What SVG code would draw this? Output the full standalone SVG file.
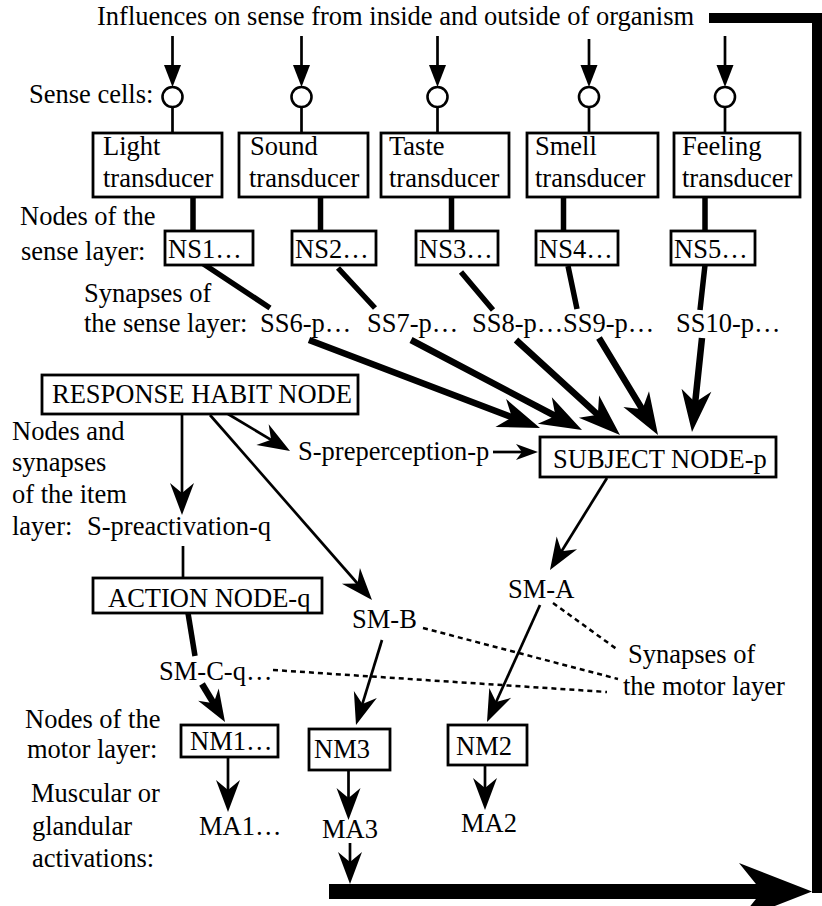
<svg xmlns="http://www.w3.org/2000/svg" xmlns:xlink="http://www.w3.org/1999/xlink" width="822" height="906" viewBox="0 0 822 906">
  <style>
    .t { font-family: "Liberation Serif", "Times New Roman", serif; font-size: 26.5px; fill: #000; }
    .box { fill: #fff; stroke: #000; stroke-width: 2.8; }
    .cell { fill: #fff; stroke: #000; stroke-width: 2.6; }
    .thin { fill: none; stroke: #000; stroke-width: 2.7; }
    .thick { fill: none; stroke: #000; stroke-width: 5.5; }
    .heavy { fill: none; stroke: #000; stroke-width: 6.5; }
    .dot { fill: none; stroke: #000; stroke-width: 2.5; stroke-dasharray: 5 4; }
    .head { fill: #000; stroke: none; }
    .bar { fill: #000; stroke: none; }
  </style>
  <defs>
    <!-- arrowheads, all pointing along +x with the tip at the origin -->
    <path id="tri" class="head" d="M0,0 L-22,-8.5 L-22,8.5 Z"/>
    <path id="ahm" class="head" d="M0,0 L-32,-12 L-22,0 L-32,12 Z"/>
    <path id="ahb" class="head" d="M0,0 L-42,-15 L-30,0 L-42,15 Z"/>
    <path id="ahs" class="head" d="M0,0 L-22,-8 L-16,0 L-22,8 Z"/>
  </defs>
  <rect width="822" height="906" fill="#fff"/>

  <!-- side annotations -->
  <g id="labels" class="t">
    <text x="97" y="25">Influences on sense from inside and outside of organism</text>
    <text x="29" y="103">Sense cells:</text>
    <text x="20" y="225">Nodes of the</text>
    <text x="21" y="260">sense layer:</text>
    <text x="84" y="302">Synapses of</text>
    <text x="84" y="332">the sense layer:</text>
    <text x="12" y="440">Nodes and</text>
    <text x="12" y="471">synapses</text>
    <text x="12" y="503">of the item</text>
    <text x="12" y="535">layer:</text>
    <text x="628" y="663">Synapses of</text>
    <text x="623" y="695">the motor layer</text>
    <text x="25" y="728">Nodes of the</text>
    <text x="27" y="758">motor layer:</text>
    <text x="31" y="802">Muscular or</text>
    <text x="32" y="835">glandular</text>
    <text x="32" y="867">activations:</text>
  </g>

  <!-- connectors -->
  <g id="connectors">
    <!-- outer feedback loop -->
    <rect class="bar" x="709" y="13" width="113" height="10"/>
    <rect class="bar" x="812" y="13" width="10" height="880"/>
    <rect class="bar" x="329" y="884" width="436" height="15"/>
    <path class="head" d="M812,891.5 L739,863 L762,891.5 L739,920 Z"/>

    <!-- inputs to the sense cells -->
    <path class="thin" d="M172.5,36 V67 M301.5,36 V67 M437.5,36 V67 M589,39 V67 M725,36 V67"/>
    <use xlink:href="#tri" transform="translate(172.5,87) rotate(90)"/>
    <use xlink:href="#tri" transform="translate(301.5,87) rotate(90)"/>
    <use xlink:href="#tri" transform="translate(437.5,87) rotate(90)"/>
    <use xlink:href="#tri" transform="translate(589,87) rotate(90)"/>
    <use xlink:href="#tri" transform="translate(725,87) rotate(90)"/>

    <!-- sense cells to transducers -->
    <path class="thin" d="M172.5,107 V133 M301.5,107 V133 M437.5,107 V133 M589,107 V133 M725,107 V133"/>

    <!-- transducers to sense nodes -->
    <path class="thick" d="M193,196 V231 M320.5,196 V231 M451.5,196 V231 M563.5,192 V231 M705,196 V231"/>

    <!-- sense nodes to sense synapses -->
    <path class="thick" d="M202,263 L270,308 M338,268 L375,308 M461,272 L493,310 M568,266 L577,309 M705,265 L700,310"/>

    <!-- sense synapses to the subject node -->
    <path class="heavy" d="M309,340 L513.8,418 M411,340 L557.2,417 M516,340 L599.3,416.1 M599,338 L643.4,411.1 M702,338 L695,404.1"/>
    <use xlink:href="#ahb" transform="translate(540,428) rotate(20.85)"/>
    <use xlink:href="#ahb" transform="translate(582,430) rotate(27.76)"/>
    <use xlink:href="#ahb" transform="translate(620,435) rotate(42.4)"/>
    <use xlink:href="#ahb" transform="translate(658,435) rotate(58.7)"/>
    <use xlink:href="#ahb" transform="translate(692,432) rotate(96.07)"/>

    <!-- response habit node outputs -->
    <path class="thin" d="M182,414 V495"/>
    <use xlink:href="#ahm" transform="translate(182,515) rotate(90)"/>
    <path class="thin" d="M228,414 L272.8,440.8"/>
    <use xlink:href="#ahm" transform="translate(290,451) rotate(30.8)"/>
    <path class="thin" d="M210,415 L358.8,585"/>
    <use xlink:href="#ahm" transform="translate(372,600) rotate(48.8)"/>

    <!-- preperception synapse to subject node -->
    <path class="thin" d="M493,452 H524"/>
    <use xlink:href="#ahs" transform="translate(538,452)"/>

    <!-- preactivation synapse to action node -->
    <path class="thin" d="M183,546 V578"/>

    <!-- action node to its motor synapse -->
    <path class="thick" d="M188,613 L195,656"/>

    <!-- subject node to SM-A -->
    <path class="thin" d="M607,478 L560.5,553"/>
    <use xlink:href="#ahm" transform="translate(550,570) rotate(121.8)"/>

    <!-- motor synapses to motor nodes -->
    <path class="heavy" d="M202,684 L214.6,704.9"/>
    <use xlink:href="#ahm" transform="translate(225,722) rotate(58.8)"/>
    <path class="thin" d="M382,640 L361.8,705.9"/>
    <use xlink:href="#ahm" transform="translate(356,725) rotate(107)"/>
    <path class="thin" d="M540,605 L495.3,703.8"/>
    <use xlink:href="#ahm" transform="translate(487,722) rotate(114.4)"/>

    <!-- motor nodes to activations -->
    <path class="thin" d="M228,757 V792 M348.5,770 V800 M485,765 V790 M350,843 V864"/>
    <use xlink:href="#ahm" transform="translate(228,812) rotate(90)"/>
    <use xlink:href="#ahm" transform="translate(348.5,820) rotate(90)"/>
    <use xlink:href="#ahm" transform="translate(485,810) rotate(90)"/>
    <use xlink:href="#ahm" transform="translate(350,884) rotate(90)"/>

    <!-- pointers from the motor-synapse caption -->
    <path class="dot" d="M273,670 L607,692"/>
    <path class="dot" d="M423,628 L618,679"/>
    <path class="dot" d="M553,603 L618,650"/>
  </g>

  <!-- sense cells -->
  <g id="sense-cells">
    <circle class="cell" cx="172.5" cy="97" r="10"/>
    <circle class="cell" cx="301.5" cy="97" r="10"/>
    <circle class="cell" cx="437.5" cy="97" r="10"/>
    <circle class="cell" cx="589" cy="97" r="10"/>
    <circle class="cell" cx="725" cy="97" r="10"/>
  </g>

  <!-- transducers -->
  <g id="light-transducer">
    <rect class="box" x="93" y="133" width="129" height="64"/>
    <text class="t" x="103" y="155">Light</text>
    <text class="t" x="103" y="187">transducer</text>
  </g>
  <g id="sound-transducer">
    <rect class="box" x="239" y="133" width="129" height="64"/>
    <text class="t" x="250" y="155">Sound</text>
    <text class="t" x="249" y="187">transducer</text>
  </g>
  <g id="taste-transducer">
    <rect class="box" x="381" y="133" width="128" height="64"/>
    <text class="t" x="389" y="155">Taste</text>
    <text class="t" x="389" y="187">transducer</text>
  </g>
  <g id="smell-transducer">
    <rect class="box" x="527" y="133" width="131" height="64"/>
    <text class="t" x="535" y="155">Smell</text>
    <text class="t" x="535" y="187">transducer</text>
  </g>
  <g id="feeling-transducer">
    <rect class="box" x="674" y="133" width="126" height="64"/>
    <text class="t" x="682" y="155">Feeling</text>
    <text class="t" x="682" y="187">transducer</text>
  </g>

  <!-- sense-layer nodes -->
  <g id="ns1"><rect class="box" x="165" y="231" width="88" height="34"/><text class="t" x="168" y="258">NS1…</text></g>
  <g id="ns2"><rect class="box" x="292" y="231" width="84" height="34"/><text class="t" x="295" y="258">NS2…</text></g>
  <g id="ns3"><rect class="box" x="416" y="231" width="82" height="34"/><text class="t" x="419" y="258">NS3…</text></g>
  <g id="ns4"><rect class="box" x="536" y="231" width="82" height="34"/><text class="t" x="539" y="258">NS4…</text></g>
  <g id="ns5"><rect class="box" x="671" y="231" width="84" height="34"/><text class="t" x="674" y="258">NS5…</text></g>

  <!-- sense-layer synapses -->
  <g id="ss6"><text class="t" x="260" y="332">SS6-p…</text></g>
  <g id="ss7"><text class="t" x="367" y="332">SS7-p…</text></g>
  <g id="ss8"><text class="t" x="472" y="332">SS8-p…</text></g>
  <g id="ss9"><text class="t" x="563" y="332">SS9-p…</text></g>
  <g id="ss10"><text class="t" x="676" y="332">SS10-p…</text></g>

  <!-- item layer -->
  <g id="response-habit-node">
    <rect class="box" x="42" y="375" width="316" height="39"/>
    <text class="t" x="52" y="403">RESPONSE HABIT NODE</text>
  </g>
  <g id="s-preperception"><text class="t" x="298" y="460">S-preperception-p</text></g>
  <g id="subject-node">
    <rect class="box" x="540" y="437" width="236" height="40"/>
    <text class="t" x="553" y="468">SUBJECT NODE-p</text>
  </g>
  <g id="s-preactivation"><text class="t" x="87" y="535">S-preactivation-q</text></g>
  <g id="action-node">
    <rect class="box" x="93" y="578" width="229" height="35"/>
    <text class="t" x="108" y="607">ACTION NODE-q</text>
  </g>

  <!-- motor-layer synapses -->
  <g id="sm-a"><text class="t" x="508" y="598">SM-A</text></g>
  <g id="sm-b"><text class="t" x="352" y="628">SM-B</text></g>
  <g id="sm-c"><text class="t" x="159" y="680">SM-C-q…</text></g>

  <!-- motor-layer nodes -->
  <g id="nm1"><rect class="box" x="181" y="725" width="97" height="32"/><text class="t" x="190" y="750">NM1…</text></g>
  <g id="nm3"><rect class="box" x="309" y="729" width="81" height="41"/><text class="t" x="314" y="758">NM3</text></g>
  <g id="nm2"><rect class="box" x="448" y="725" width="79" height="40"/><text class="t" x="456" y="755">NM2</text></g>

  <!-- activations -->
  <g id="ma1"><text class="t" x="199" y="835">MA1…</text></g>
  <g id="ma3"><text class="t" x="322" y="838">MA3</text></g>
  <g id="ma2"><text class="t" x="461" y="832">MA2</text></g>
</svg>
